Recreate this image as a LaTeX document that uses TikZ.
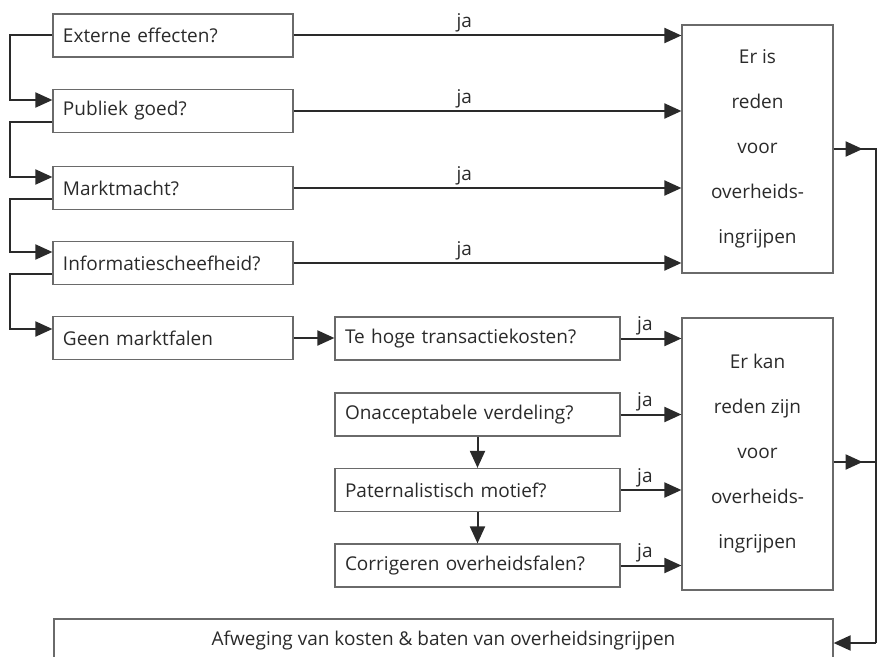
\documentclass[tikz,border=0pt]{standalone}
\usepackage{fontspec}
\setmainfont{Open Sans}
\usepackage{tikz}
\usetikzlibrary{shapes,arrows.meta,positioning,calc}

\definecolor{ink}{HTML}{2A2A2A}
\definecolor{frame}{HTML}{6A6A6A}

\tikzset{
    txt/.style={font=\fontsize{19bp}{23bp}\selectfont, text=ink},
    qbox/.style={draw=frame, line width=1.2bp, rectangle, txt, align=left,
        inner xsep=10bp, inner ysep=0pt, minimum height=43bp},
    lbox/.style={qbox, text width=220bp},
    mbox/.style={qbox, text width=265bp},
    bigbox/.style={draw=frame, line width=1.2bp, rectangle, align=center,
        font=\fontsize{19bp}{45bp}\selectfont, text=ink, minimum width=151bp},
    line/.style={draw=ink, line width=2bp},
    arr/.style={line, -{Triangle[length=17bp,width=15bp]}},
    ja/.style={txt, above, inner sep=2bp}
}

\begin{document}
\begin{tikzpicture}[x=1bp, y=-1bp]
    \useasboundingbox (0,0) rectangle (878,657);

    % markt-vragen
    \node[lbox] (ext) at (173,35.5) {Externe effecten?};
    \node[lbox] (pub) at (173,111) {Publiek goed?};
    \node[lbox] (mkt) at (173,188) {Marktmacht?};
    \node[lbox] (inf) at (173,263) {Informatiescheefheid?};
    \node[lbox] (geen) at (173,338) {Geen marktfalen};

    % overige motieven
    \node[mbox] (hoge) at (477.5,338.5) {Te hoge transactiekosten?};
    \node[mbox] (onac) at (477.5,414.5) {Onacceptabele verdeling?};
    \node[mbox] (pat) at (477.5,490) {Paternalistisch motief?};
    \node[mbox] (corr) at (477.5,565.5) {Corrigeren overheidsfalen?};

    \node[bigbox, minimum height=248bp] (erIs) at (757.5,149)
        {Er is\\reden\\voor\\overheids-\\ingrijpen};
    \node[bigbox, minimum height=272bp] (erKan) at (757.5,454)
        {Er kan\\reden zijn\\voor\\overheids-\\ingrijpen};

    \node[draw=frame, line width=1.2bp, rectangle, txt, minimum width=779bp,
        minimum height=44bp] (afw) at (443.5,641)
        {Afweging van kosten \& baten van overheidsingrijpen};

    \coordinate (rail) at (876,0);

    % linker keten
    \draw[arr] (ext.west) -- ++(-42,0) |- ([yshift=11bp]pub.west);
    \draw[arr] ([yshift=-11bp]pub.west) -- ++(-42,0) |- ([yshift=11bp]mkt.west);
    \draw[arr] ([yshift=-11bp]mkt.west) -- ++(-42,0) |- ([yshift=11bp]inf.west);
    \draw[arr] ([yshift=-11bp]inf.west) -- ++(-42,0) |- ([yshift=9bp]geen.west);

    % ja-pijlen
    \draw[arr] (ext.east) -- node[ja, pos=0.44] {ja} (ext.east -| erIs.west);
    \draw[arr] (pub.east) -- node[ja, pos=0.44] {ja} (pub.east -| erIs.west);
    \draw[arr] (mkt.east) -- node[ja, pos=0.44] {ja} (mkt.east -| erIs.west);
    \draw[arr] (inf.east) -- node[ja, pos=0.44] {ja} (inf.east -| erIs.west);

    \draw[arr] (geen.east) -- (geen.east -| hoge.west);
    \draw[arr] (hoge.east) -- node[ja, pos=0.4] {ja} (hoge.east -| erKan.west);
    \draw[arr] (onac.east) -- node[ja, pos=0.4] {ja} (onac.east -| erKan.west);
    \draw[arr] (pat.east) -- node[ja, pos=0.4] {ja} (pat.east -| erKan.west);
    \draw[arr] (corr.east) -- node[ja, pos=0.4] {ja} (corr.east -| erKan.west);

    \draw[arr] (onac) -- (pat);
    \draw[arr] (pat) -- (corr);

    % naar afweging
    \draw[line] (erIs.east) -- (erIs.east -| rail) -- ([yshift=-2bp]afw.east -| rail);
    \draw[arr] (erIs.east) -- ++(29,0);
    \draw[line] ([yshift=-8bp]erKan.east) -- ([yshift=-8bp]erKan.east -| rail);
    \draw[arr] ([yshift=-8bp]erKan.east) -- ++(29,0);
    \draw[arr] ([yshift=-2bp]afw.east -| rail) -- ([yshift=-2bp]afw.east);
\end{tikzpicture}
\end{document}
